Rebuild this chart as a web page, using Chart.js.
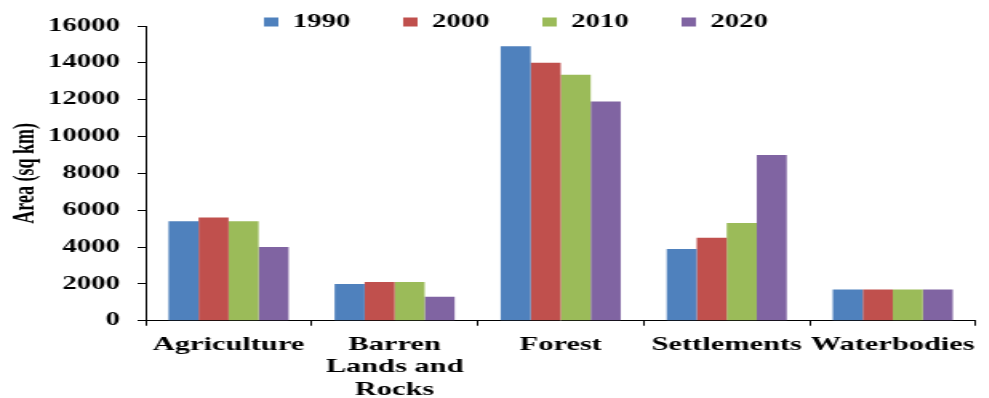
<!DOCTYPE html>
<html>
<head>
<meta charset="utf-8">
<script src="https://cdn.jsdelivr.net/npm/chart.js@4/dist/chart.umd.min.js"></script>
<style>
  html, body { margin: 0; padding: 0; background: #fff; overflow: hidden; }
  /* the figure is drawn narrow and widened horizontally */
  #wrap { width: 618px; height: 398px; transform: scaleX(1.6); transform-origin: 0 0; }
  canvas { display: block; }
</style>
</head>
<body>
<div id="wrap"><canvas id="c" width="618" height="398"></canvas></div>
<script>
// Land cover area by class (sq km)
const categories = ['Agriculture', ['Barren', 'Lands and', 'Rocks'], 'Forest', 'Settlements', 'Waterbodies'];
const years = ['1990', '2000', '2010', '2020'];
const area1990 = [5400, 2000, 14900, 3900, 1700];
const area2000 = [5600, 2100, 14000, 4500, 1700];
const area2010 = [5400, 2100, 13350, 5300, 1700];
const area2020 = [4000, 1300, 11900, 9000, 1700];
const yTicks = [0, 2000, 4000, 6000, 8000, 10000, 12000, 14000, 16000];

const seriesValues = [area1990, area2000, area2010, area2020];
const seriesColors = ['#4F81BD', '#C0504D', '#9BBB59', '#8064A2'];

const serif = "'Liberation Serif', 'Times New Roman', serif";

// nudges the legend row into place above the plot
const legendOffset = {
  id: 'legendOffset',
  afterLayout(chart) {
    const lg = chart.legend;
    if (!lg) return;
    const dx = 17.5, dy = -20;
    lg.left += dx; lg.right += dx;
    lg.top += dy;
    lg.bottom += 30;
  }
};

new Chart(document.getElementById('c'), {
  type: 'bar',
  data: {
    labels: categories,
    datasets: years.map((y, i) => ({
      label: y,
      data: seriesValues[i],
      backgroundColor: seriesColors[i],
      borderWidth: 0,
      categoryPercentage: 0.723,
      barPercentage: 1.0
    }))
  },
  options: {
    responsive: false,
    animation: false,
    devicePixelRatio: 1,
    layout: { padding: { left: 0, right: 8, top: 0, bottom: -11 } },
    plugins: {
      legend: {
        position: 'top',
        maxHeight: 26,
        labels: {
          boxWidth: 9,
          boxHeight: 9,
          padding: 33,
          color: '#000',
          font: { family: serif, size: 18, weight: 'bold' }
        }
      },
      tooltip: { enabled: false }
    },
    scales: {
      x: {
        grid: { display: true, drawOnChartArea: false, drawTicks: true, tickLength: 5, color: '#000', offset: true },
        border: { display: true, color: '#000', width: 1 },
        ticks: {
          color: '#000',
          autoSkip: false,
          maxRotation: 0,
          padding: 8,
          font: { family: serif, size: 19, weight: 'bold', lineHeight: 1.18 }
        }
      },
      y: {
        min: 0,
        max: 16000,
        afterBuildTicks(scale) { scale.ticks = yTicks.map(v => ({ value: v })); },
        afterFit(scale) { scale.width = 91; },
        grid: { display: true, drawOnChartArea: false, drawTicks: true, tickLength: 5, color: '#000' },
        border: { display: true, color: '#000', width: 1 },
        ticks: {
          color: '#000',
          padding: 11,
          callback: v => String(v),
          font: { family: serif, size: 18, weight: 'bold' }
        },
        title: {
          display: true,
          text: 'Area (sq km)',
          color: '#000',
          padding: { top: 6, bottom: 2 },
          font: { family: serif, size: 18, weight: 'bold' }
        }
      }
    }
  },
  plugins: [legendOffset]
});
</script>
</body>
</html>
